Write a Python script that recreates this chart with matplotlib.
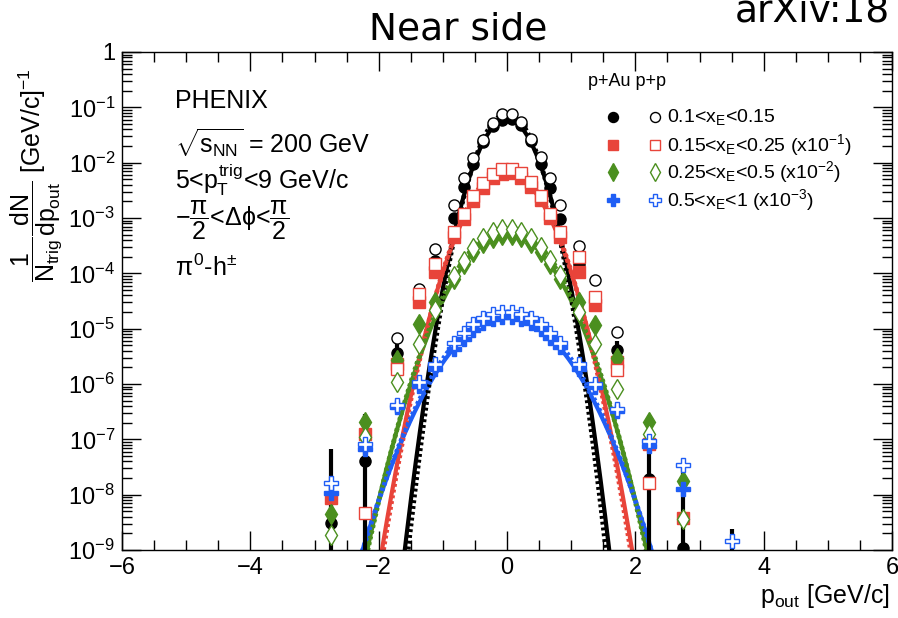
import numpy as np
import matplotlib
matplotlib.use("Agg")
import matplotlib.pyplot as plt
from matplotlib.ticker import FixedLocator, NullFormatter, LogLocator

plt.rcParams['font.family'] = ['Liberation Sans', 'DejaVu Sans']
plt.rcParams['mathtext.fontset'] = 'custom'
plt.rcParams['mathtext.rm'] = 'Liberation Sans'
plt.rcParams['mathtext.it'] = 'Liberation Sans'
plt.rcParams['mathtext.bf'] = 'Liberation Sans:bold'

# ---- p_out bin centres (GeV/c) ----
pout = [-2.74, -2.22, -1.72, -1.37, -1.12, -0.825, -0.675, -0.525, -0.375, -0.225, -0.075,
        0.075, 0.225, 0.375, 0.525, 0.675, 0.825, 1.12, 1.37, 1.72, 2.22, 2.74, 3.5]
nan = np.nan

# ---- per-trigger yields (scaled as in legend) ----
pAu_xe1 = [3.1e-9, 4e-8, 3.6e-6, 3.3e-5, 1.7e-4, 1.0e-3, 3.6e-3, 9.5e-3, 0.024, 0.046, 0.060,
           0.062, 0.048, 0.025, 9.5e-3, 3.5e-3, 9.5e-4, 1.45e-4, 3.4e-5, 4.2e-6, 1.9e-8, 1.1e-9, 4e-10]
pAu_xe1_err = [6.5e-8, 2.5e-7, 1.6e-6, 0, 0, 0, 0, 0, 0, 0, 0,
               0, 0, 0, 0, 0, 0, 0, 0, 1.8e-6, 1.4e-7, 3.7e-8, 2.0e-9]
pp_xe1 = [nan, nan, 6.9e-6, 5.2e-5, 2.8e-4, 1.7e-3, 5.3e-3, 0.012, 0.026, 0.052, 0.075,
          0.077, 0.055, 0.027, 0.0125, 5.3e-3, 1.7e-3, 3.1e-4, 7.6e-5, 8.8e-6, nan, nan, nan]

pAu_xe2 = [8.7e-9, 1.26e-7, 2.3e-6, 3.0e-5, 1.05e-4, 4.5e-4, 9.5e-4, 2.0e-3, 3.5e-3, 5.2e-3, 6.3e-3,
           6.4e-3, 5.3e-3, 3.6e-3, 2.1e-3, 1.0e-3, 4.6e-4, 1.05e-4, 2.7e-5, 2.5e-6, 8.3e-8, 3.8e-9, nan]
pp_xe2 = [nan, 4.7e-9, 1.85e-6, 4.3e-5, 1.45e-4, 5.5e-4, 1.2e-3, 2.5e-3, 4.3e-3, 6.3e-3, 7.7e-3,
          7.8e-3, 6.4e-3, 4.4e-3, 2.5e-3, 1.2e-3, 5.6e-4, 1.95e-4, 3.7e-5, 1.77e-6, 1.6e-8, nan, nan]

pAu_xe3 = [4.5e-9, 2.1e-7, 2.7e-6, 1.23e-5, 3.0e-5, 7.8e-5, 1.45e-4, 2.4e-4, 3.5e-4, 4.4e-4, 5.0e-4,
           5.0e-4, 4.5e-4, 3.5e-4, 2.4e-4, 1.45e-4, 8.0e-5, 3.0e-5, 1.18e-5, 2.9e-6, 2.1e-7, 1.74e-8, nan]
pp_xe3 = [1.9e-9, 1.1e-7, 1.07e-6, 5.2e-6, 2.2e-5, 9.0e-5, 1.7e-4, 2.9e-4, 4.3e-4, 5.5e-4, 6.3e-4,
          6.3e-4, 5.6e-4, 4.4e-4, 3.0e-4, 1.75e-4, 9.2e-5, 2.0e-5, 5.2e-6, 8.1e-7, 1.26e-7, 3.6e-9, nan]

pAu_xe4 = [1.07e-8, 6.8e-8, 3.8e-7, 9.1e-7, 1.85e-6, 4.3e-6, 6.6e-6, 9.5e-6, 1.25e-5, 1.5e-5, 1.63e-5,
           1.65e-5, 1.5e-5, 1.27e-5, 9.8e-6, 6.9e-6, 4.6e-6, 1.85e-6, 9.0e-7, 3.2e-7, 7.7e-8, 1.26e-8, nan]
pp_xe4 = [1.6e-8, 8.3e-8, 4.2e-7, 1.1e-6, 2.3e-6, 5.4e-6, 8.3e-6, 1.2e-5, 1.55e-5, 1.85e-5, 2.0e-5,
          2.0e-5, 1.85e-5, 1.55e-5, 1.2e-5, 8.3e-6, 5.4e-6, 2.3e-6, 1.0e-6, 3.5e-7, 9.4e-8, 3.4e-8, 1.45e-9]

# ---- Gaussian fits: (amplitude, width) for p+Au and p+p ----
fit_pAu = [(0.062, 0.266), (6.5e-3, 0.348), (5.1e-4, 0.425), (1.65e-5, 0.511)]
fit_pp = [(0.076, 0.256), (7.7e-3, 0.342), (6.3e-4, 0.42), (2.0e-5, 0.505)]

colors = ['black', '#e8443a', '#4b8f1f', '#1f5ef5']
labels = [r'0.1<$\mathregular{x_E}$<0.15',
          r'0.15<$\mathregular{x_E}$<0.25 (x10$^{-1}$)',
          r'0.25<$\mathregular{x_E}$<0.5 (x10$^{-2}$)',
          r'0.5<$\mathregular{x_E}$<1 (x10$^{-3}$)']
markers = ['o', 's', 'd', 'P']
msizes = [8, 8, 10, 10]

fig = plt.figure(figsize=(8.98, 6.18), dpi=100)
ax = fig.add_axes([122 / 898, 68 / 618, 770 / 898, 498 / 618])
ax.set_yscale('log')
ax.set_xlim(-6, 6)
ax.set_ylim(1e-9, 0.85)

# fit curves
xf = np.linspace(-3, 3, 1201)
for (a, s), col in zip(fit_pAu, colors):
    ax.plot(xf, a * np.exp(-xf ** 2 / (2 * s ** 2)), color=col, lw=3, zorder=2)
for (a, s), col in zip(fit_pp, colors):
    ax.plot(xf, a * np.exp(-xf ** 2 / (2 * s ** 2)), color=col, lw=3.5,
            ls=(0, (0.6, 0.6)), zorder=2)

# black error bars for the sparse tail bins
ax.errorbar(pout, pAu_xe1, yerr=pAu_xe1_err, fmt='none', ecolor='black',
            elinewidth=3, capsize=0, zorder=3)

pAu_sets = [pAu_xe1, pAu_xe2, pAu_xe3, pAu_xe4]
pp_sets = [pp_xe1, pp_xe2, pp_xe3, pp_xe4]
for ys, col, m, ms in zip(pAu_sets, colors, markers, msizes):
    ax.plot(pout, ys, ls='none', marker=m, ms=ms, mfc=col, mec=col, zorder=4)
for ys, col, m, ms in zip(pp_sets, colors, markers, msizes):
    ax.plot(pout, ys, ls='none', marker=m, ms=ms, mfc='white', mec=col, mew=1.0, zorder=5)

# axes style (ticks on all sides, pointing in)
ax.xaxis.set_major_locator(FixedLocator([-6, -4, -2, 0, 2, 4, 6]))
ax.xaxis.set_minor_locator(FixedLocator(np.arange(-6, 6.01, 0.5)))
ax.yaxis.set_minor_locator(LogLocator(base=10, subs=np.arange(2, 10), numticks=20))
ax.yaxis.set_minor_formatter(NullFormatter())
ax.set_yticks([10.0 ** k for k in range(-9, 1)])
ax.set_yticklabels(['$10^{-%d}$' % (-k) if k < 0 else '1' for k in range(-9, 1)])
ax.set_xticklabels(['\u22126', '\u22124', '\u22122', '0', '2', '4', '6'])
ax.tick_params(which='both', direction='in', top=True, right=True, labelsize=17, width=1)
ax.tick_params(which='major', length=14, pad=5)
ax.tick_params(which='minor', length=7)
for sp in ax.spines.values():
    sp.set_linewidth(1.0)

# axis titles
fig.text(890 / 898, 1 - 596 / 618, r'p$_{\mathregular{out}}$ [GeV/c]', fontsize=18,
         ha='right', va='center')
fig.text(36 / 898, 1 - 175 / 618,
         r'$\dfrac{1}{N_{trig}}\dfrac{dN}{dp_{out}}$ [GeV/c]$^{-1}$',
         fontsize=18, rotation=90, ha='center', va='center')

# annotations
lx = (175 - 122) / 770
ax.text(lx, 1 - (101 - 52) / 498, 'PHENIX', transform=ax.transAxes, fontsize=18, va='center')
ax.text(lx, 1 - (143 - 52) / 498, r'$\sqrt{s_{NN}}$ = 200 GeV', transform=ax.transAxes,
        fontsize=18, va='center')
ax.text(lx, 1 - (180 - 52) / 498, r'5<$p_{T}^{trig}$<9 GeV/c', transform=ax.transAxes,
        fontsize=18, va='center')
ax.text(lx, 1 - (220 - 52) / 498, r'$-\dfrac{\pi}{2}$<$\Delta\phi$<$\dfrac{\pi}{2}$',
        transform=ax.transAxes, fontsize=18, va='center')
ax.text(lx, 1 - (268 - 52) / 498, r'$\pi^{0}$-h$^{\pm}$', transform=ax.transAxes,
        fontsize=18, va='center')

# legend
ax.text((588 - 122) / 770, 1 - (82 - 52) / 498, 'p+Au p+p', transform=ax.transAxes,
        fontsize=13, va='center')
row_y = [117, 145, 172, 200]
for ry, col, m, ms, lab in zip(row_y, colors, markers, msizes, labels):
    yy = 1 - (ry - 52) / 498
    ax.plot([(613 - 122) / 770], [yy], transform=ax.transAxes, marker=m, ms=ms * 0.9,
            mfc=col, mec=col, ls='none', clip_on=False)
    ax.plot([(655 - 122) / 770], [yy], transform=ax.transAxes, marker=m, ms=ms * 0.9,
            mfc='white', mec=col, mew=1.0, ls='none', clip_on=False)
    ax.text((667 - 122) / 770, yy, lab, transform=ax.transAxes, fontsize=14, va='center')

# headings
fig.text(458 / 898, 1 - 30 / 618, 'Near side', fontsize=27, ha='center', va='center',
         family='DejaVu Sans')
fig.text(735 / 898, 1 - 21 / 618, 'arXiv:18', fontsize=27, ha='left', va='baseline',
         family='DejaVu Sans')

fig.savefig('out.png', dpi=100)
